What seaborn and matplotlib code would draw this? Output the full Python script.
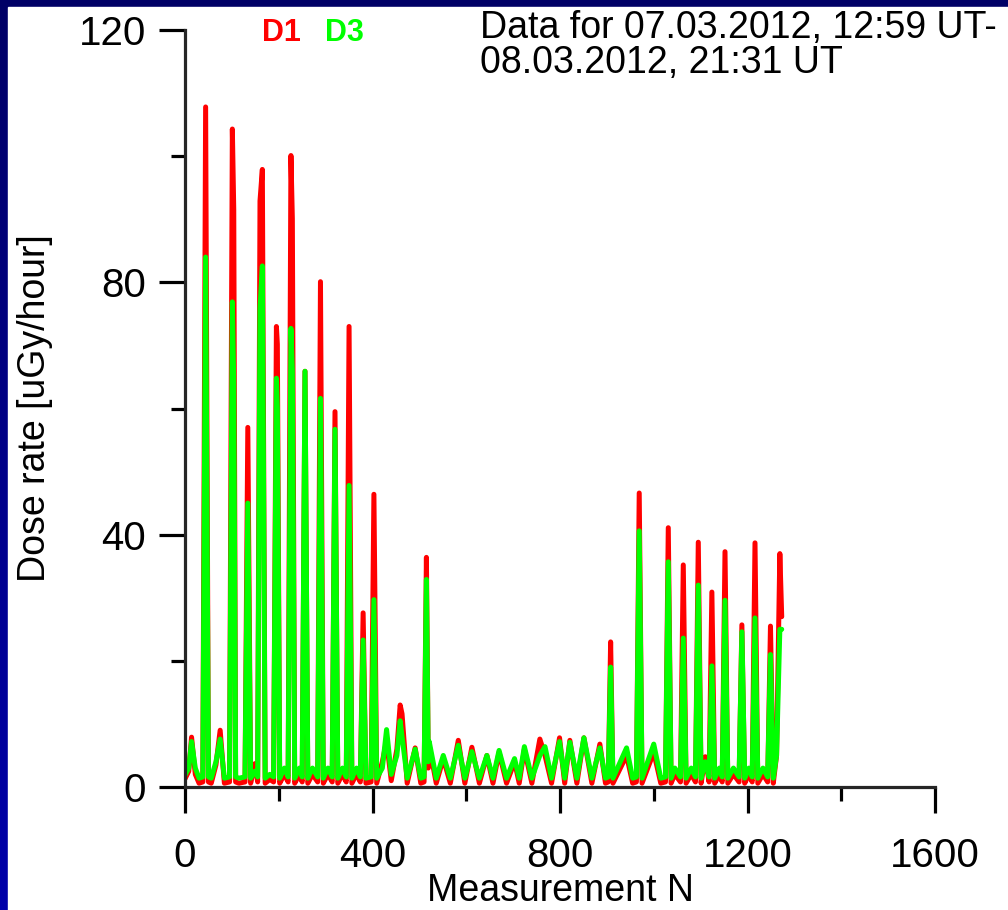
import numpy as np
import pandas as pd
import matplotlib
matplotlib.use('Agg')
import matplotlib.pyplot as plt
from matplotlib.patches import Rectangle
import seaborn as sns

sns.set_style('ticks')
plt.rcParams['font.family'] = ['Liberation Sans', 'DejaVu Sans']
plt.rcParams['text.color'] = 'black'
plt.rcParams['axes.labelcolor'] = 'black'
plt.rcParams['xtick.color'] = 'black'
plt.rcParams['ytick.color'] = 'black'

# measurement number and dose rate (uGy/hour) at the turning points of the traces
meas_n = [0, 8, 14, 22, 30, 38, 44, 50, 56,
          66, 75, 84, 95, 101, 104, 108, 115, 128, 134, 140,
          149, 155, 160, 165, 171, 181, 189, 195, 197, 202, 212, 220, 226, 229, 234,
          244, 250, 256, 262, 272, 283, 289, 295, 305, 314, 320, 326,
          336, 344, 350, 356, 366, 374, 380, 386, 397, 403, 409,
          421, 430, 440, 452, 459, 463, 474, 491, 503, 510, 515, 519, 521, 536,
          551, 566, 583, 597, 612, 628, 644, 657, 670, 686, 703, 713, 724, 740,
          757, 768, 782, 799, 810, 821, 836, 851, 868, 885, 897, 903, 908, 913,
          942, 955, 963, 969, 975, 1000, 1015, 1025, 1031, 1037, 1045, 1057, 1063, 1069,
          1080, 1089, 1095, 1101, 1110, 1118, 1124, 1130, 1140, 1146, 1152, 1158,
          1170, 1182, 1188, 1194, 1203, 1210, 1216, 1222, 1233, 1243, 1249, 1255, 1262, 1269, 1273]
d1 = [1.3, 2.5, 7.9, 2.0, 0.6, 0.8, 107.8, 0.8, 0.6,
      3.5, 9.0, 0.6, 0.8, 104.3, 91.5, 0.8, 0.6, 0.8, 57.0, 0.6,
      3.7, 0.8, 92.9, 97.9, 0.6, 1.2, 0.8, 73.0, 70.2, 0.6, 2.0, 0.8, 100.1, 90.1, 0.6,
      2.0, 0.8, 65.9, 0.6, 2.0, 0.8, 80.1, 0.6, 2.0, 0.8, 59.5, 0.6,
      2.0, 0.8, 73.0, 0.6, 2.0, 0.8, 27.6, 0.6, 0.8, 46.4, 0.6,
      4.0, 7.3, 1.0, 6.0, 13.0, 11.6, 0.6, 6.2, 0.6, 0.8, 36.4, 3.0, 6.5, 0.6,
      4.5, 0.6, 7.4, 0.6, 6.3, 0.6, 5.0, 0.6, 5.5, 0.6, 4.0, 0.6, 6.0, 0.6,
      7.6, 5.0, 0.6, 7.8, 0.6, 7.4, 0.6, 7.8, 0.6, 6.8, 0.6, 0.8, 23.0, 0.6,
      5.0, 0.6, 0.8, 46.6, 0.6, 5.5, 0.6, 0.8, 41.1, 0.6, 2.0, 0.8, 35.2, 0.6,
      2.0, 0.8, 38.8, 0.6, 4.8, 0.8, 30.9, 0.6, 2.0, 0.8, 37.3, 0.6,
      2.0, 0.8, 25.7, 0.6, 2.0, 0.8, 38.7, 0.6, 2.0, 0.8, 25.5, 0.6, 5.0, 37.0, 27.0]
d3 = [1.9, 3.0, 7.2, 3.0, 1.4, 1.6, 84.0, 1.6, 1.4,
      4.0, 7.6, 1.4, 1.6, 76.9, 64.1, 1.6, 1.4, 1.6, 45.0, 1.4,
      2.5, 1.6, 75.9, 82.6, 1.4, 2.0, 1.6, 64.8, 60.0, 1.4, 3.0, 1.6, 72.7, 66.0, 1.4,
      3.0, 1.6, 65.9, 1.4, 3.0, 1.6, 61.6, 1.4, 3.0, 1.6, 56.7, 1.4,
      3.0, 1.6, 47.8, 1.4, 3.0, 1.6, 23.3, 1.4, 1.6, 29.7, 1.4,
      3.0, 9.1, 2.0, 5.0, 10.5, 8.0, 1.4, 6.0, 1.4, 1.6, 32.9, 4.0, 7.2, 1.4,
      5.0, 1.4, 6.6, 1.4, 5.6, 1.4, 5.0, 1.4, 5.8, 1.4, 4.5, 1.4, 6.4, 1.4,
      5.0, 6.4, 1.4, 7.2, 1.4, 7.1, 1.4, 7.8, 1.4, 6.2, 1.4, 1.6, 19.0, 1.4,
      6.2, 1.4, 1.6, 40.6, 1.4, 6.8, 1.4, 1.6, 35.7, 1.4, 3.0, 1.6, 23.6, 1.4,
      3.0, 1.6, 32.0, 1.4, 4.0, 1.6, 19.2, 1.4, 3.0, 1.6, 29.6, 1.4,
      3.0, 1.6, 24.6, 1.4, 3.0, 1.6, 26.8, 1.4, 3.0, 1.6, 21.0, 1.4, 5.0, 25.0, 25.0]

x_ticks = [0, 400, 800, 1200, 1600]
y_ticks = [0, 40, 80, 120]

df = pd.DataFrame({'N': meas_n, 'D1': d1, 'D3': d3})

fig = plt.figure(figsize=(10.08, 9.10), dpi=100)

# dark blue frame with a gradient on the left side
bg = fig.add_axes([0, 0, 1, 1], zorder=-10)
grad = np.linspace(0, 1, 256).reshape(-1, 1)
bg.imshow(grad, aspect='auto', extent=[0, 1, 0, 1], origin='upper',
          cmap=matplotlib.colors.LinearSegmentedColormap.from_list('bb', ['#000066', '#0000aa']))
bg.add_patch(Rectangle((8 / 1008, 0), 1, 1 - 7 / 910, color='white'))
bg.set_xlim(0, 1)
bg.set_ylim(0, 1)
bg.axis('off')

ax = fig.add_axes([185 / 1008, 1 - 787 / 910, 750 / 1008, 757 / 910])
ax.patch.set_alpha(0)
sns.lineplot(data=df, x='N', y='D1', ax=ax, color='#ff0000', lw=3.6, estimator=None, sort=False)
sns.lineplot(data=df, x='N', y='D3', ax=ax, color='#00ff00', lw=3.6, estimator=None, sort=False)

ax.set_xlim(0, 1600)
ax.set_ylim(0, 120)
ax.set_xticks(x_ticks)
ax.set_yticks(y_ticks)
ax.set_xticks([200, 600, 1000, 1400], minor=True)
ax.set_yticks([20, 60, 100], minor=True)
sns.despine(ax=ax)
for s in ['left', 'bottom']:
    ax.spines[s].set_linewidth(2.3)
ax.tick_params(which='major', length=19, width=2.3, labelsize=29)
ax.tick_params(which='minor', length=10, width=2.3)
ax.tick_params(axis='x', which='major', pad=17)
ax.tick_params(axis='y', which='major', pad=9)

ax.set_xlabel('Measurement N', fontsize=27)
ax.set_ylabel('Dose rate [uGy/hour]', fontsize=27)
ax.xaxis.set_label_coords(0.5, -0.137)
ax.xaxis.label.set_va('center')
ax.yaxis.set_label_coords(-0.2, 0.5)
ax.yaxis.label.set_va('center')

fig.text(281 / 1008, 1 - 33 / 910, 'D1', color='#ff0000', fontsize=22, fontweight='bold',
         ha='center', va='center')
fig.text(344 / 1008, 1 - 33 / 910, 'D3', color='#00ff00', fontsize=22, fontweight='bold',
         ha='center', va='center')
fig.text(480 / 1008, 1 - 10 / 910, 'Data for 07.03.2012, 12:59 UT-\n08.03.2012, 21:31 UT',
         fontsize=27, ha='left', va='top', linespacing=0.95)

fig.savefig('out.png', dpi=100)
